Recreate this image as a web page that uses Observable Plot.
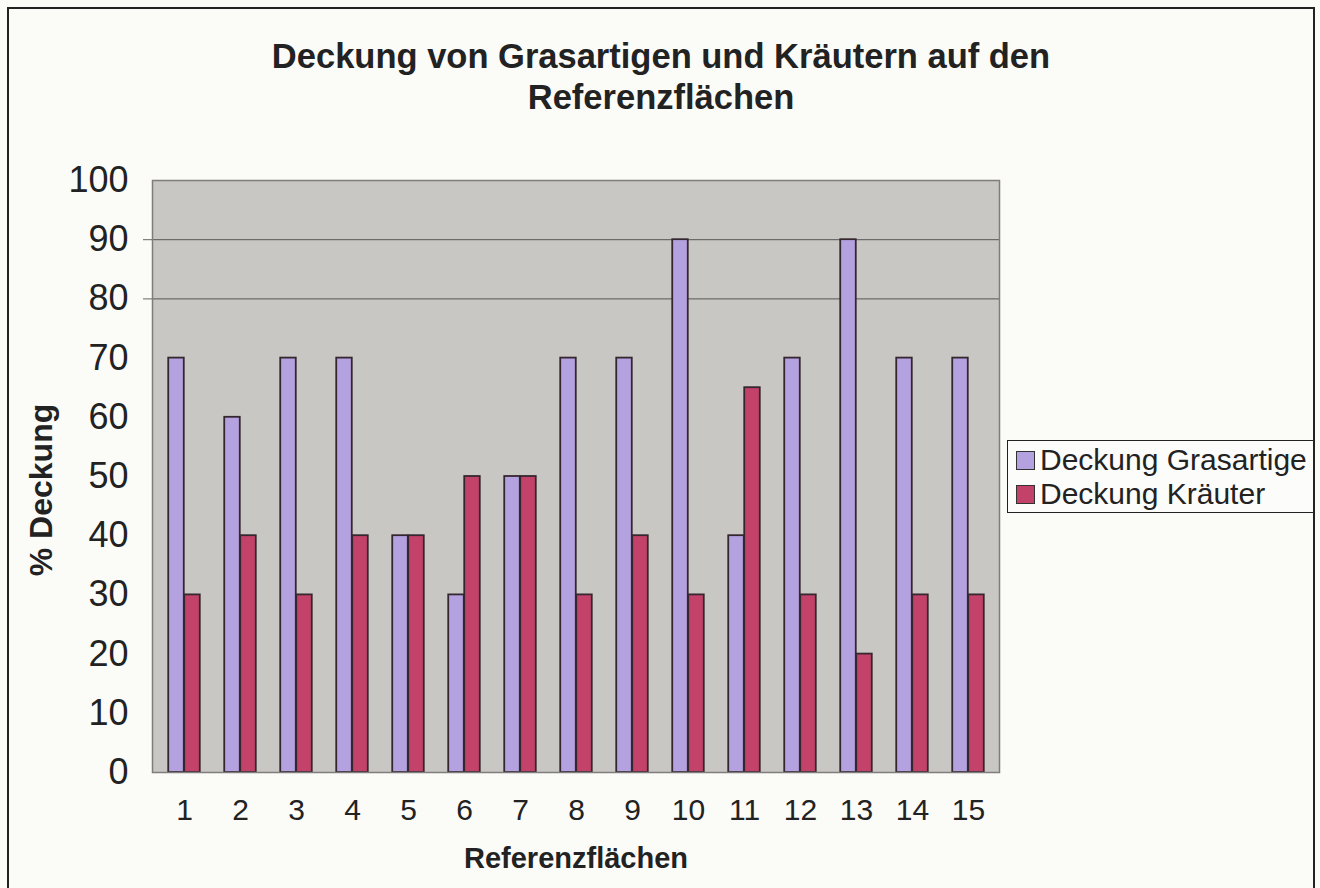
<!DOCTYPE html>
<html>
<head>
<meta charset="utf-8">
<script src="https://cdn.jsdelivr.net/npm/d3@7"></script>
<script src="https://cdn.jsdelivr.net/npm/@observablehq/plot@0.6"></script>
<style>
  html, body { margin: 0; padding: 0; background: #fbfbf8; overflow: hidden; }
  #page { position: relative; width: 1320px; height: 888px; font-family: "Liberation Sans", Arial, sans-serif; color: #222; }
  #border { position: absolute; left: 7px; top: 7px; width: 1308px; height: 900px; border: 2px solid #222; box-sizing: border-box; }
  #title { position: absolute; left: 0; top: 36px; width: 1322px; text-align: center; font-weight: bold; font-size: 34.5px; line-height: 41px; color: #222; }
  #xtitle { position: absolute; left: 376px; width: 400px; top: 842px; text-align: center; font-weight: bold; font-size: 29px; color: #222; }
  #ytitle { position: absolute; left: 41px; top: 490px; transform: translate(-50%, -50%) rotate(-90deg); white-space: nowrap; font-weight: bold; font-size: 32px; color: #222; }
  #legend { position: absolute; left: 1007px; top: 440px; width: 307px; height: 73px; border: 1.5px solid #222; box-sizing: border-box; background: #fcfcfa; padding: 2px 0 0 8px; }
  .item { display: flex; align-items: center; height: 34px; font-size: 30px; color: #222; white-space: nowrap; }
  .sw { width: 17px; height: 17px; border: 1.5px solid #333; margin-right: 5px; flex: none; }
  #chart { position: absolute; left: 0; top: 0; }
</style>
</head>
<body>
<div id="page">
  <div id="border"></div>
  <div id="title"></div>
  <div id="chart"></div>
  <div id="xtitle"></div>
  <div id="ytitle"></div>
  <div id="legend"></div>
</div>
<script>
// ---- data ----
const categories = ["1","2","3","4","5","6","7","8","9","10","11","12","13","14","15"];
const grasartige = [70, 60, 70, 70, 40, 30, 50, 70, 70, 90, 40, 70, 90, 70, 70];
const kraeuter   = [30, 40, 30, 40, 40, 50, 50, 30, 40, 30, 65, 30, 20, 30, 30];
const seriesNames = ["Deckung Grasartige", "Deckung Kräuter"];
const yTicks = [0, 10, 20, 30, 40, 50, 60, 70, 80, 90, 100];
const gridValues = [80, 90];
const titleLines = ["Deckung von Grasartigen und Kräutern auf den", "Referenzflächen"];
const xTitle = "Referenzflächen";
const yTitle = "% Deckung";

// ---- styles ----
const colors = ["#b4a2e0", "#c2426a"];
const W = 1320, H = 888;
const margin = {left: 152, right: 321, top: 180, bottom: 116};
const plotW = W - margin.left - margin.right;
const band = plotW / categories.length;
const barW = 16;
const gapHalf = band / 2 - barW;

const gData = categories.map((c, i) => ({c, v: grasartige[i]}));
const kData = categories.map((c, i) => ({c, v: kraeuter[i]}));

const chart = Plot.plot({
  width: W,
  height: H,
  marginLeft: margin.left,
  marginRight: margin.right,
  marginTop: margin.top,
  marginBottom: margin.bottom,
  style: {background: "transparent", fontFamily: "'Liberation Sans', Arial, sans-serif", color: "#222"},
  x: {domain: categories, padding: 0, label: null},
  y: {domain: [0, 100], label: null},
  marks: [
    Plot.frame({fill: "#c9c7c3", stroke: "none"}),
    Plot.ruleY(gridValues, {stroke: "#555", strokeWidth: 1}),
    Plot.barY(gData, {x: "c", y: "v", fill: colors[0], stroke: "#35272f", strokeWidth: 1.8, insetLeft: gapHalf, insetRight: band / 2}),
    Plot.barY(kData, {x: "c", y: "v", fill: colors[1], stroke: "#35272f", strokeWidth: 1.8, insetLeft: band / 2, insetRight: gapHalf}),
    Plot.frame({stroke: "#7f7d7b", strokeWidth: 1.5}),
    Plot.axisY(yTicks, {tickSize: 0, tickPadding: 24, fontSize: 36, label: null}),
    Plot.axisY(gridValues, {tickSize: 9, text: null, stroke: "#666", label: null}),
    Plot.axisX({tickSize: 0, tickPadding: 26, fontSize: 30, label: null})
  ]
});
document.getElementById("chart").appendChild(chart);

document.getElementById("title").innerHTML = titleLines.join("<br>");
document.getElementById("xtitle").textContent = xTitle;
document.getElementById("ytitle").textContent = yTitle;
const leg = document.getElementById("legend");
seriesNames.forEach((n, i) => {
  const d = document.createElement("div");
  d.className = "item";
  d.innerHTML = `<span class="sw" style="background:${colors[i]}"></span><span>${n}</span>`;
  leg.appendChild(d);
});
</script>
</body>
</html>
